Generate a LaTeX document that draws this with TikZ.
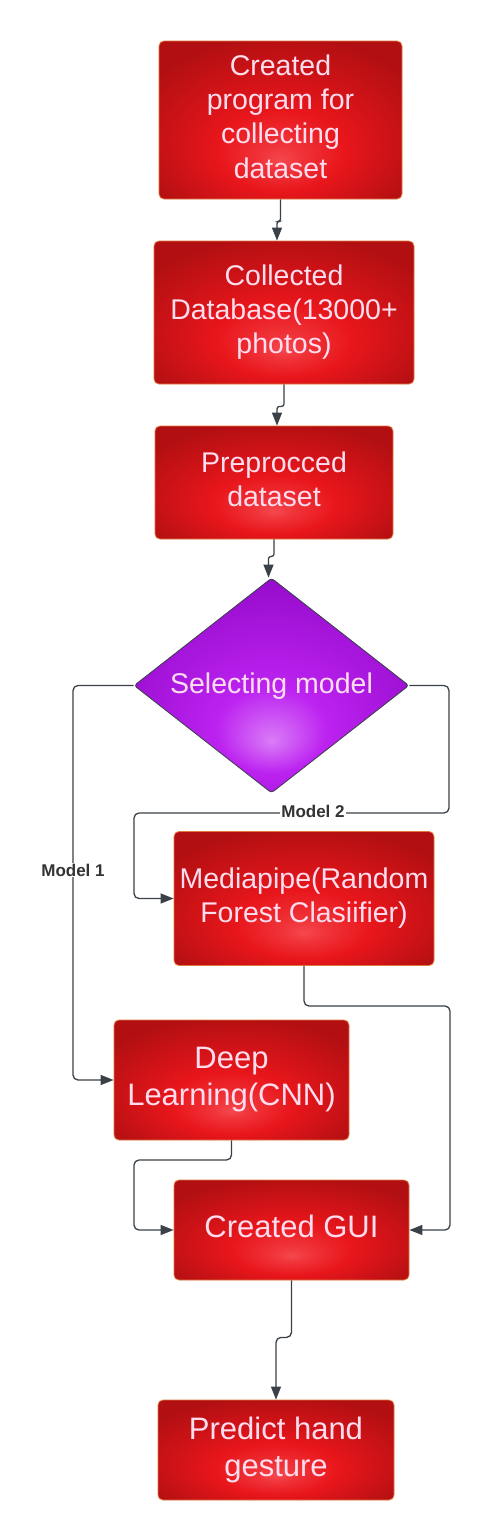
\documentclass[tikz,border=0pt]{standalone}
\usepackage{fontspec}
\setmainfont{Liberation Sans}
\usetikzlibrary{arrows.meta,shapes.geometric,calc}
\definecolor{rA}{HTML}{F5484E}
\definecolor{rB}{HTML}{E8161B}
\definecolor{rC}{HTML}{B10F12}
\definecolor{pA}{HTML}{DA7CF8}
\definecolor{pB}{HTML}{BC22F0}
\definecolor{pC}{HTML}{960CCC}
\definecolor{boxedge}{HTML}{E0763A}
\definecolor{boxtext}{HTML}{FFDDEE}
\definecolor{linecol}{HTML}{3A4149}
\definecolor{labcol}{HTML}{333333}
\pgfdeclareradialshading{redglow}{\pgfpoint{0bp}{-13bp}}{color(0bp)=(rA); color(4bp)=(rA!60!rB); color(13bp)=(rB); color(32bp)=(rC); color(50bp)=(rC)}
\pgfdeclareradialshading{purpleglow}{\pgfpoint{0bp}{-13bp}}{color(0bp)=(pA); color(10bp)=(pB); color(30bp)=(pC); color(50bp)=(pC)}
\newcommand{\liftS}{\\[-27.2pt]}
\newcommand{\liftL}{\\[-30pt]}
\newcommand{\liftD}{\\[-29pt]}
\begin{document}
\begin{tikzpicture}[x=1pt,y=-1pt,
  stepbox/.style={draw=boxedge, line width=0.8pt, rounded corners=5pt, shade, shading=redglow,
    text=boxtext, align=center, font=\fontsize{28.5}{34.2}\selectfont, inner sep=0pt},
  bigtext/.style={font=\fontsize{31}{37.2}\selectfont},
  decision/.style={diamond, draw=linecol, line width=0.8pt, rounded corners=3pt, shade, shading=purpleglow,
    text=boxtext, align=center, font=\fontsize{28.5}{34.2}\selectfont, inner sep=0pt,
    minimum width=275pt, minimum height=215pt, shape aspect=1.28},
  conn/.style={draw=linecol, line width=1.3pt, rounded corners=5pt, -{Triangle[length=13pt,width=10pt]}},
  jog/.style={conn, rounded corners=2.5pt},
  lab/.style={fill=white, text=labcol, font=\bfseries\fontsize{17}{20}\selectfont, inner sep=1pt}
]
\useasboundingbox (0,0) rectangle (490,1540);
\fill[white] (0,0) rectangle (490,1540);

\node[stepbox, minimum width=243pt, minimum height=158pt] (b1) at (280.5,120) {Created\\program for\\collecting\\dataset\liftS};
\node[stepbox, minimum width=260pt, minimum height=143pt] (b2) at (284,312.5) {Collected\\Database(13000+\\photos)\liftS};
\node[stepbox, minimum width=238pt, minimum height=113pt] (b3) at (274,482.5) {Preprocced\\dataset\liftS};
\node[decision] (d) at (271.5,685.5) {Selecting model\liftD};
\node[stepbox, minimum width=260pt, minimum height=134pt] (mp) at (304,898.5) {Mediapipe(Random\\Forest Clasiifier)\liftS};
\node[stepbox, bigtext, minimum width=235pt, minimum height=120pt] (dl) at (231.5,1080) {Deep\\Learning(CNN)\liftL};
\node[stepbox, bigtext, minimum width=235pt, minimum height=100pt] (gui) at (291.5,1230) {Created GUI\liftL};
\node[stepbox, bigtext, minimum width=236pt, minimum height=100pt] (pr) at (276,1450) {Predict hand\\gesture\liftL};

% straight-ish connectors with small jogs
\draw[jog] (b1.south) -- ++(0,22) -| ([xshift=-7pt]b2.north);
\draw[jog] (b2.south) -- ++(0,22) -| ([xshift=3pt]b3.north);
\draw[jog] (b3.south) -- ++(0,17) -| ([xshift=-3pt]d.north);
\draw[conn] (gui.south) -- ++(0,57) -| (pr.north);

% model 1 branch
\coordinate (m1a) at (73,685.5);
\draw[conn] (d.west) -- (m1a) |- (dl.west);
\node[lab] (l1) at (73,870) {Model 1};

% model 2 branch
\coordinate (m2a) at (449,685.5);
\coordinate (m2b) at (449,813);
\coordinate (m2c) at (134,813);
\draw[conn] (d.east) -- (m2a) -- (m2b) -- (m2c) |- (mp.west);
\node[lab] (l2) at (313,811) {Model 2};

% to GUI
\coordinate (g1) at (304,1006);
\coordinate (g2) at (450,1006);
\draw[conn] (mp.south) -- (g1) -- (g2) |- (gui.east);
\coordinate (g3) at (231.5,1160);
\coordinate (g4) at (134,1160);
\draw[conn] (dl.south) -- (g3) -- (g4) |- (gui.west);
\end{tikzpicture}
\end{document}
